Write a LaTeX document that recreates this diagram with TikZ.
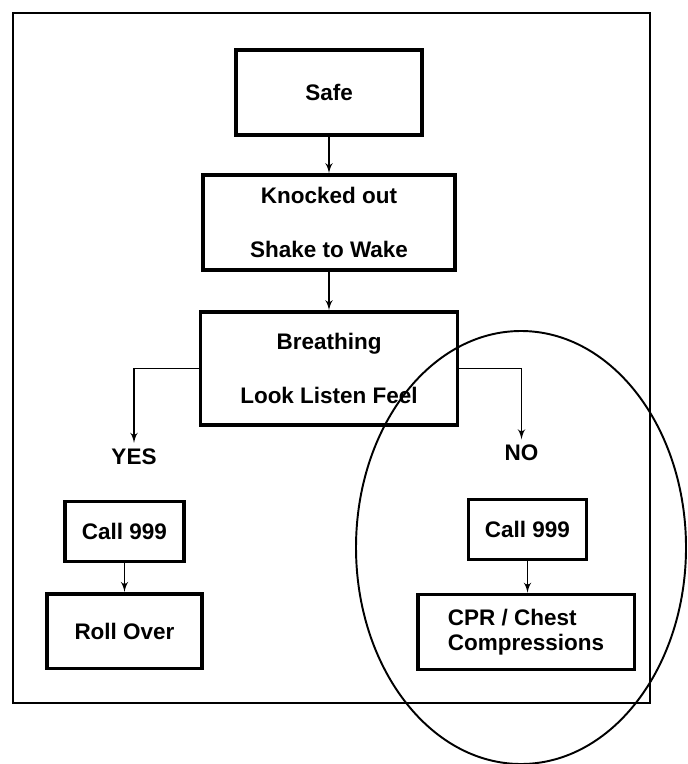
\documentclass[tikz,border=0pt]{standalone}
\usepackage{fontspec}
\setmainfont{Liberation Sans}
\usepackage{tikz}
\usetikzlibrary{shapes,arrows}
\tikzstyle{box} = [rectangle, draw, line width=2pt, inner sep=0pt,
    align=center, font=\fontsize{12.8}{15}\selectfont\bfseries]
\tikzstyle{answer} = [inner sep=3pt, font=\fontsize{12.8}{15}\selectfont\bfseries]
\tikzstyle{line} = [draw, line width=1pt, -latex']

\begin{document}
\begin{tikzpicture}[node distance = 2.6cm]
    \useasboundingbox (0,0) rectangle (13.74,-15.28);
    % Place nodes
    % Main chain
    \node [box, minimum width=3.72cm, minimum height=1.7cm] at (6.58,-1.85) (Safe) {Safe};
    \node [box, below of=Safe, minimum width=5.04cm, minimum height=1.9cm] (Knocked)
        {Knocked out\\[16pt]Shake to Wake};
    \node [box, below of=Knocked, node distance=2.92cm, minimum width=5.14cm, minimum height=2.26cm] (Breathing)
        {Breathing\\[16pt]Look Listen Feel};

    % Answers
    \node [answer] at (2.68,-9.13) (Yes) {YES};
    \node [answer] at (10.43,-9.06) (No) {NO};

    % Yes branch
    \node [box, minimum width=2.37cm, minimum height=1.2cm] at (2.49,-10.63) (CallYes) {Call 999};
    \node [box, below of=CallYes, node distance=1.99cm, minimum width=3.1cm, minimum height=1.49cm] (Roll) {Roll Over};

    % No branch
    \node [box, minimum width=2.36cm, minimum height=1.2cm] at (10.55,-10.59) (CallNo) {Call 999};
    \node [box, minimum width=4.33cm, minimum height=1.5cm, align=left,
        font=\fontsize{12.8}{14.4}\selectfont\bfseries] at (10.52,-12.64) (CPR)
        {CPR / Chest\\Compressions};

    % Draw edges
    \path [line] (Safe) -- (Knocked);
    \path [line] (Knocked) -- (Breathing);
    \path [line] (Breathing.west) -| (Yes.north);
    \path [line] (Breathing.east) -| (No.north);
    \path [line] (CallYes) -- (Roll);
    \path [line] (CallNo.south) -- (CallNo.south |- CPR.north);

    % Frame and ring
    \draw [line width=0.95pt] (0.266,-0.254) rectangle (12.994,-14.054);
    \draw [line width=1.1pt] (10.42,-10.95) ellipse (3.3cm and 4.33cm);

\end{tikzpicture}
\end{document}
